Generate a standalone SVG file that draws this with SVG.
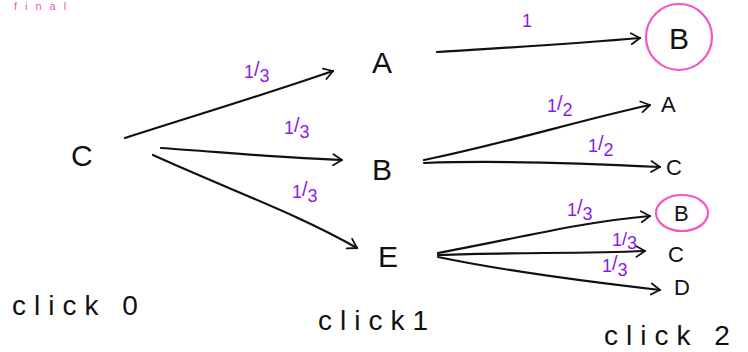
<svg xmlns="http://www.w3.org/2000/svg" width="748" height="352" viewBox="0 0 748 352">
<style>
.lbl{font-family:"Liberation Sans",Arial,sans-serif;font-size:30px;fill:#111;}
.sm{font-family:"Liberation Sans",Arial,sans-serif;font-size:22px;fill:#111;}
.cap{font-family:"Liberation Sans",Arial,sans-serif;font-size:28px;fill:#111;letter-spacing:8px;}
.p{font-family:"Liberation Sans",Arial,sans-serif;font-size:18px;fill:#8a1ae6;}
.e{fill:none;stroke:#111;stroke-width:2.2;stroke-linecap:round;marker-end:url(#ah);}
.ring{fill:none;stroke:#f256c4;stroke-width:2.2;}
</style>
<defs>
<marker id="ah" viewBox="0 0 10 12" refX="9" refY="6" markerWidth="5" markerHeight="6" markerUnits="strokeWidth" orient="auto">
<path d="M1,1 L9,6 L1,11" fill="none" stroke="#111" stroke-width="1.6" stroke-linecap="round" stroke-linejoin="round"/>
</marker>
</defs>
<rect width="748" height="352" fill="#fff"/>
<text x="14" y="10" style="font-family:'Liberation Sans',Arial,sans-serif;font-size:11px;fill:#f256c4;letter-spacing:8px;">final</text>
<g id="edges">
<path class="e" d="M125,138 C200,114 260,96 333,71"/>
<path class="e" d="M161,148 C220,152 280,158 342,160"/>
<path class="e" d="M153,155 C230,190 300,215 357,248"/>
<path class="e" d="M437,52 C500,48 570,44 640,38"/>
<path class="e" d="M424,160 C500,145 580,120 650,105"/>
<path class="e" d="M424,163 C500,160 580,163 660,167"/>
<path class="e" d="M438,253 C510,240 580,222 650,216"/>
<path class="e" d="M438,255 C510,252 580,254 645,251"/>
<path class="e" d="M438,257 C510,272 590,282 660,290"/>
</g>
<g id="edge-labels">
<text class="p" x="522" y="27">1</text>
<text class="p" x="244" y="78"><tspan>1</tspan><tspan font-size="20" dy="-2">/</tspan><tspan dy="6">3</tspan></text>
<text class="p" x="284" y="134"><tspan>1</tspan><tspan font-size="20" dy="-2">/</tspan><tspan dy="6">3</tspan></text>
<text class="p" x="292" y="198"><tspan>1</tspan><tspan font-size="20" dy="-2">/</tspan><tspan dy="6">3</tspan></text>
<text class="p" x="547" y="112"><tspan>1</tspan><tspan font-size="20" dy="-2">/</tspan><tspan dy="6">2</tspan></text>
<text class="p" x="588" y="152"><tspan>1</tspan><tspan font-size="20" dy="-2">/</tspan><tspan dy="6">2</tspan></text>
<text class="p" x="567" y="216"><tspan>1</tspan><tspan font-size="20" dy="-2">/</tspan><tspan dy="6">3</tspan></text>
<text class="p" x="612" y="246" font-size="13"><tspan>1</tspan><tspan dy="-1">/</tspan><tspan dy="4">3</tspan></text>
<text class="p" x="602" y="272"><tspan>1</tspan><tspan font-size="20" dy="-2">/</tspan><tspan dy="6">3</tspan></text>
</g>
<g id="node-C0"><text class="lbl" x="71" y="166">C</text></g>
<g id="node-A1"><text class="lbl" x="372" y="73">A</text></g>
<g id="node-B1"><text class="lbl" x="372" y="180">B</text></g>
<g id="node-E1"><text class="lbl" x="378" y="267">E</text></g>
<g id="node-B2a"><circle class="ring" cx="679" cy="37" r="33"/><text class="lbl" x="669" y="49">B</text></g>
<g id="node-A2"><text class="sm" x="661" y="112">A</text></g>
<g id="node-C2a"><text class="sm" x="666" y="175">C</text></g>
<g id="node-B2b"><ellipse class="ring" cx="682" cy="213" rx="26" ry="18"/><text class="sm" x="674" y="221">B</text></g>
<g id="node-C2b"><text class="sm" x="668" y="262">C</text></g>
<g id="node-D2"><text class="sm" x="674" y="295">D</text></g>
<g id="captions">
<text class="cap" x="12" y="315">click 0</text>
<text class="cap" x="318" y="330">click1</text>
<text class="cap" x="604" y="345">click 2</text>
</g>
</svg>
